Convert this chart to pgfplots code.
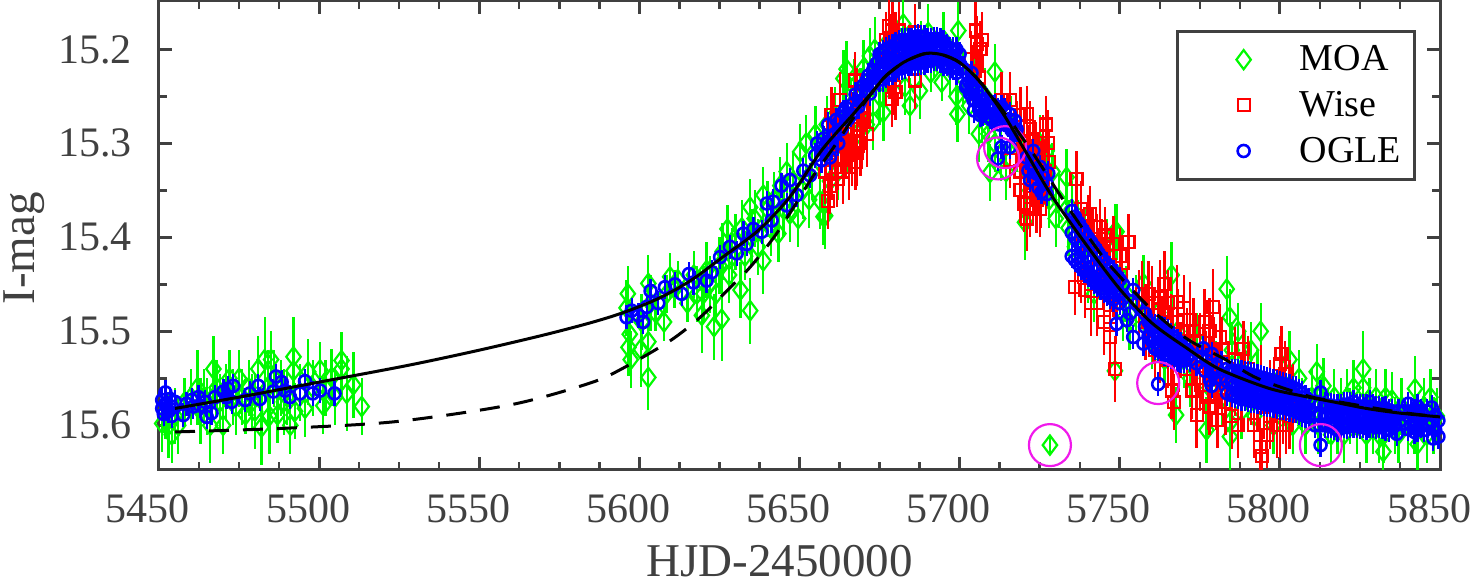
\documentclass[border=0pt]{standalone}
\usepackage{fontspec}
\setmainfont{Liberation Serif}
\usepackage{pgfplots}
\pgfplotsset{compat=1.18}
\definecolor{axgray}{HTML}{404040}
\definecolor{circ}{RGB}{240,25,235}
\definecolor{moa}{RGB}{0,250,0}
\begin{document}
\begin{tikzpicture}
\useasboundingbox (-79.5pt,-55.5pt) rectangle (656.5pt,235pt);
\begin{axis}[
    scale only axis, width=640.5pt, height=234.5pt,
    clip mode=individual,
    xmin=5450, xmax=5850, ymin=15.1485, ymax=15.6475, y dir=reverse,
    xtick={5450,5500,...,5850}, ytick={15.2,15.3,15.4,15.5,15.6},
    minor x tick num=3, minor y tick num=1,
    tick align=inside, major tick length=6.5pt, minor tick length=4pt,
    axis line style={axgray,line width=1.5pt},
    every tick/.style={axgray,line width=1.5pt},
    every minor tick/.style={axgray,line width=1.2pt},
    /pgf/number format/assume math mode=true,
    xticklabel style={/pgf/number format/fixed,/pgf/number format/1000 sep={},yshift=-9pt,xshift=-5.5pt},
    yticklabel style={/pgf/number format/fixed,/pgf/number format/fixed zerofill,/pgf/number format/precision=1,xshift=-10pt},
    tick label style={font=\fontsize{21}{21}\selectfont,text=axgray},
    label style={font=\fontsize{23.5}{23.5}\selectfont,text=axgray},
    xlabel={HJD-2450000}, ylabel={I-mag},
    xlabel style={yshift=-4pt,xshift=-10pt}, ylabel style={yshift=0pt,xshift=-6.5pt},
    legend style={at={(0.981,0.938)},anchor=north east,draw=axgray,line width=1.5pt,
      font=\fontsize{19}{19}\selectfont,text=black,inner xsep=4.5pt,inner ysep=5pt,
      row sep=4.75pt,/tikz/every odd column/.append style={column sep=22.5pt}},
    legend cell align=left,
    legend image code/.code={\path[draw=none] (-20.1pt,0pt) -- (8.5pt,0pt);
      \draw[#1,only marks] plot coordinates {(0.3cm,0cm)};},
]
\addplot[only marks,mark=diamond,mark size=4.8pt,color=moa,line width=1.1pt,
  error bars/.cd,y dir=both,y explicit,error mark=none,error bar style={line width=1.15pt,color=moa}]
  table[x index=0,y index=1,y error index=2,row sep=\\] {
5451 15.598 .03\\ 5452 15.585 .03\\ 5453 15.6 .035\\ 5454 15.61 .03\\ 5455 15.59 .03\\ 5456 15.6 .03\\ 5458 15.575 .025\\ 5460 15.57 .03\\
5462 15.56 .04\\ 5463 15.585 .035\\ 5464 15.57 .03\\ 5465 15.58 .03\\ 5466 15.6 .04\\ 5467 15.54 .035\\ 5468 15.56 .03\\ 5469 15.575 .03\\
5470 15.6 .03\\ 5471 15.565 .03\\ 5472 15.55 .03\\ 5473 15.57 .03\\ 5474 15.58 .03\\ 5475 15.55 .03\\ 5476 15.57 .03\\ 5477 15.589 .02\\
5478 15.56 .03\\ 5479 15.575 .03\\ 5480 15.585 .04\\ 5481 15.54 .035\\ 5482 15.602 .04\\ 5483 15.53 .045\\ 5484 15.56 .04\\ 5484.5 15.59 .04\\
5485 15.53 .03\\ 5486 15.55 .03\\ 5487 15.589 .03\\ 5488 15.56 .03\\ 5489 15.575 .035\\ 5490 15.57 .03\\ 5491 15.6 .03\\ 5492 15.527 .042\\
5492 15.542 .03\\ 5492.5 15.585 .03\\ 5494 15.565 .03\\ 5495.6 15.582 .03\\ 5496.6 15.543 .035\\ 5498 15.56 .03\\ 5500.3 15.541 .03\\ 5501.3 15.579 .03\\
5502 15.56 .03\\ 5503.9 15.549 .03\\ 5505 15.57 .03\\ 5507 15.531 .03\\ 5507 15.54 .03\\ 5508.6 15.566 .04\\ 5510.7 15.557 .035\\ 5513.3 15.58 .03\\
5596.4 15.46 .03\\ 5596 15.475 .03\\ 5597 15.503 .03\\ 5596.6 15.517 .03\\ 5597.3 15.53 .03\\ 5600.4 15.519 .04\\ 5600.7 15.49 .03\\ 5602.8 15.449 .03\\
5602.8 15.511 .04\\ 5602.8 15.549 .035\\ 5603.5 15.47 .03\\ 5605 15.48 .02\\ 5607.7 15.49 .02\\ 5609.6 15.442 .025\\ 5608.5 15.46 .02\\ 5611 15.455 .02\\
5612 15.445 .02\\ 5615 15.47 .02\\ 5617 15.44 .025\\ 5618 15.46 .03\\ 5619.5 15.483 .04\\ 5620 15.46 .03\\ 5621 15.435 .03\\ 5622 15.45 .03\\
5623.3 15.495 .035\\ 5624 15.46 .03\\ 5625.7 15.487 .045\\ 5625 15.43 .03\\ 5626 15.415 .03\\ 5627.5 15.391 .025\\ 5628 15.44 .03\\ 5629 15.42 .03\\
5630 15.405 .03\\ 5631.6 15.456 .03\\ 5632 15.39 .03\\ 5633 15.42 .025\\ 5634.6 15.478 .035\\ 5634.6 15.368 .03\\ 5635 15.4 .03\\ 5636 15.38 .03\\
5637 15.41 .03\\ 5638.7 15.425 .035\\ 5638.7 15.355 .03\\ 5640 15.37 .03\\ 5641 15.39 .03\\ 5642 15.36 .03\\ 5643.4 15.396 .03\\ 5644 15.345 .03\\
5645 15.37 .03\\ 5646 15.33 .03\\ 5647 15.375 .03\\ 5648 15.34 .03\\ 5649.6 15.38 .03\\ 5650.2 15.309 .03\\ 5651 15.35 .03\\ 5652 15.3 .03\\
5653 15.36 .03\\ 5654 15.33 .03\\ 5655 15.29 .03\\ 5656.4 15.361 .03\\ 5657.5 15.378 .03\\ 5658 15.377 .035\\ 5658.5 15.28 .03\\ 5659.5 15.34 .03\\
5660 15.31 .03\\ 5661 15.27 .03\\ 5662 15.33 .03\\ 5663.7 15.231 .03\\ 5664.7 15.221 .03\\ 5665 15.3 .03\\ 5666 15.26 .03\\ 5667 15.24 .03\\
5668 15.29 .03\\ 5669 15.25 .03\\ 5670 15.22 .03\\ 5671 15.28 .035\\ 5672 15.207 .03\\ 5673 15.277 .03\\ 5673.5 15.2 .035\\ 5675 15.25 .03\\
5676.2 15.267 .03\\ 5677 15.22 .03\\ 5678 15.19 .03\\ 5680 15.21 .03\\ 5682.4 15.173 .03\\ 5683 15.24 .03\\ 5684.5 15.26 .03\\ 5686 15.21 .03\\
5687.6 15.244 .03\\ 5688 15.2 .03\\ 5690.2 15.182 .03\\ 5691 15.225 .02\\ 5692 15.21 .02\\ 5694.4 15.235 .02\\ 5695 15.19 .03\\ 5697 15.22 .03\\
5699.3 15.269 .03\\ 5699 15.25 .03\\ 5699.6 15.18 .03\\ 5701 15.23 .03\\ 5703 15.26 .03\\ 5705 15.24 .03\\ 5706 15.29 .03\\ 5707 15.27 .03\\
5708 15.25 .03\\ 5709.5 15.331 .03\\ 5709 15.29 .03\\ 5711 15.224 .03\\ 5711 15.3 .03\\ 5713 15.31 .03\\ 5714.5 15.33 .03\\ 5716 15.28 .03\\
5718 15.3 .03\\ 5720.4 15.384 .04\\ 5721 15.33 .03\\ 5722 15.35 .03\\ 5724 15.32 .03\\ 5725 15.3 .03\\ 5727.2 15.308 .03\\ 5728 15.36 .03\\
5729 15.33 .03\\ 5728.2 15.621 .01\\ 5730 15.38 .03\\ 5731 15.36 .03\\ 5733.4 15.336 .03\\ 5734 15.39 .03\\ 5735 15.37 .03\\ 5736 15.41 .03\\
5737 15.39 .03\\ 5738 15.42 .03\\ 5739 15.4 .03\\ 5740 15.44 .03\\ 5741 15.41 .03\\ 5742 15.46 .03\\ 5743 15.43 .03\\ 5745 15.45 .03\\
5746 15.41 .03\\ 5748.5 15.394 .03\\ 5749 15.394 .03\\ 5748.5 15.542 .03\\ 5750 15.44 .03\\ 5751 15.48 .03\\ 5752 15.46 .03\\ 5753 15.49 .03\\
5755 15.47 .03\\ 5757.4 15.449 .03\\ 5758 15.49 .03\\ 5760 15.51 .03\\ 5762 15.48 .03\\ 5764 15.53 .03\\ 5766.2 15.44 .035\\ 5767.6 15.589 .03\\
5768 15.5 .03\\ 5770 15.53 .03\\ 5772 15.55 .03\\ 5774 15.51 .03\\ 5776 15.53 .03\\ 5777.1 15.605 .035\\ 5778 15.56 .03\\ 5780 15.54 .03\\
5782 15.57 .03\\ 5783.4 15.455 .035\\ 5784.4 15.485 .03\\ 5784.4 15.612 .04\\ 5784.4 15.597 .03\\ 5785 15.52 .03\\ 5786 15.56 .03\\ 5787 15.5 .03\\
5788 15.585 .03\\ 5789 15.53 .03\\ 5790 15.57 .03\\ 5791 15.52 .03\\ 5792 15.59 .03\\ 5793 15.55 .03\\ 5794 15.5 .03\\ 5796 15.57 .03\\
5798 15.6 .03\\ 5800 15.55 .03\\ 5802 15.59 .03\\ 5803 15.53 .03\\ 5804 15.6 .03\\ 5806 15.55 .03\\ 5807 15.58 .03\\ 5808 15.6 .03\\
5810 15.57 .03\\ 5811.5 15.543 .03\\ 5812 15.6 .03\\ 5813.6 15.558 .03\\ 5815 15.59 .03\\ 5816 15.61 .03\\ 5817 15.57 .03\\ 5818 15.6 .03\\
5819 15.58 .03\\ 5820 15.61 .03\\ 5821 15.57 .03\\ 5822 15.59 .03\\ 5823 15.56 .03\\ 5824 15.6 .03\\ 5826 15.54 .04\\ 5826 15.56 .03\\
5827 15.61 .03\\ 5828 15.58 .03\\ 5829 15.6 .03\\ 5830 15.57 .03\\ 5831 15.61 .03\\ 5832.3 15.628 .03\\ 5832.5 15.61 .03\\ 5833 15.57 .03\\
5835 15.573 .03\\ 5836 15.6 .03\\ 5837 15.61 .03\\ 5838 15.58 .03\\ 5840 15.6 .03\\ 5842.2 15.561 .035\\ 5842 15.6 .03\\ 5843 15.62 .03\\
5845 15.58 .03\\ 5846 15.61 .03\\ 5847 15.57 .03\\ 5848 15.6 .03\\ 5849 15.59 .03\\
};
\addlegendentry{MOA}
\addplot[only marks,mark=square,mark size=3pt,color=red,line width=1.1pt,
  error bars/.cd,y dir=both,y explicit,error mark=none,error bar style={line width=1.15pt,color=red}]
  table[x index=0,y index=1,y error index=2,row sep=\\] {
5659 15.361 .03\\ 5659.5 15.345 .03\\ 5660 15.33 .03\\ 5661.6 15.338 .03\\ 5662.6 15.254 .03\\ 5660 15.27 .03\\ 5660.5 15.285 .03\\ 5663 15.3 .03\\
5664 15.315 .03\\ 5665 15.29 .03\\ 5666 15.3 .03\\ 5667.3 15.233 .03\\ 5667.5 15.32 .03\\ 5668 15.25 .03\\ 5669 15.28 .03\\ 5670 15.26 .03\\
5661 15.3 .035\\ 5662 15.315 .035\\ 5663.5 15.33 .035\\ 5664.5 15.3 .035\\ 5665.5 15.325 .035\\ 5666.5 15.31 .035\\ 5667 15.285 .035\\ 5668 15.31 .035\\
5669 15.3 .035\\ 5670 15.275 .035\\ 5671 15.29 .035\\ 5659.5 15.31 .035\\ 5658 15.33 .035\\ 5678 15.175 .03\\ 5680.5 15.205 .03\\ 5681 15.18 .03\\ 5679.5 15.24 .03\\ 5677.5 15.21 .03\\
5677 15.19 .03\\ 5678.3 15.192 .03\\ 5679 15.18 .03\\ 5680 15.19 .03\\ 5678.8 15.253 .03\\ 5680 15.245 .03\\ 5686 15.233 .03\\ 5686 15.182 .03\\
5703.5 15.21 .03\\ 5705.3 15.194 .03\\ 5705.5 15.215 .03\\ 5706.5 15.2 .03\\ 5704 15.225 .03\\ 5705 15.18 .03\\ 5706 15.23 .03\\ 5707 15.19 .03\\
5713.1 15.254 .03\\ 5715.7 15.254 .03\\ 5719 15.27 .03\\ 5721 15.269 .03\\
5722 15.285 .03\\ 5723 15.295 .03\\ 5723.5 15.305 .03\\ 5724 15.32 .03\\ 5715.7 15.318 .03\\ 5719 15.33 .03\\ 5720 15.364 .03\\ 5725.1 15.37 .03\\
5718 15.29 .035\\ 5720 15.3 .035\\ 5721.5 15.315 .035\\ 5722.5 15.33 .035\\ 5724.5 15.34 .035\\ 5725.5 15.355 .035\\ 5726.5 15.33 .035\\ 5727.5 15.3 .035\\ 5728 15.32 .035\\ 5719 15.35 .035\\ 5721 15.38 .035\\ 5724 15.36 .035\\
5722 15.37 .03\\ 5723 15.345 .03\\ 5726 15.3 .03\\ 5727 15.28 .03\\ 5736.5 15.338 .03\\ 5738 15.37 .03\\ 5740.7 15.375 .03\\ 5743.8 15.389 .03\\
5738.5 15.405 .035\\ 5740 15.39 .035\\ 5741.5 15.405 .035\\ 5743 15.41 .035\\ 5744.5 15.415 .035\\ 5746 15.42 .035\\ 5747 15.43 .035\\ 5748 15.45 .035\\ 5749 15.47 .035\\ 5750.5 15.44 .035\\ 5741 15.47 .035\\ 5743 15.47 .035\\ 5745 15.49 .035\\ 5747 15.485 .035\\
5748 15.407 .03\\ 5736 15.453 .03\\ 5739.1 15.456 .03\\ 5737 15.42 .03\\ 5738 15.44 .03\\ 5741 15.45 .03\\ 5742 15.42 .03\\ 5745.4 15.398 .03\\
5745 15.43 .03\\ 5747 15.506 .04\\ 5748.5 15.54 .035\\ 5750 15.42 .03\\ 5752.7 15.405 .03\\ 5758 15.49 .04\\ 5760 15.47 .04\\ 5761 15.52 .03\\
5756 15.47 .035\\ 5757 15.46 .035\\ 5759 15.46 .035\\ 5760.5 15.5 .035\\ 5762 15.49 .035\\ 5762.5 15.52 .035\\ 5764 15.45 .035\\ 5765 15.47 .035\\ 5766.5 15.51 .035\\ 5768 15.49 .035\\ 5768.5 15.53 .035\\ 5770 15.475 .035\\
5771 15.51 .035\\ 5773 15.5 .035\\ 5773.5 15.53 .035\\ 5775 15.55 .035\\ 5776.5 15.49 .035\\ 5777.5 15.57 .035\\ 5778.5 15.54 .035\\ 5779.5 15.52 .035\\ 5780.5 15.55 .035\\ 5782 15.52 .035\\ 5783 15.575 .035\\ 5785 15.59 .035\\
5786 15.53 .035\\ 5787 15.6 .035\\ 5788 15.57 .035\\ 5790 15.54 .035\\ 5792 15.6 .035\\ 5793 15.57 .035\\ 5794 15.55 .035\\ 5796 15.61 .035\\ 5797 15.59 .035\\ 5798 15.575 .035\\ 5800 15.6 .035\\ 5801.5 15.545 .035\\ 5803 15.59 .035\\ 5804 15.57 .035\\
5762.6 15.464 .04\\ 5763 15.5 .03\\ 5764 15.48 .035\\ 5765 15.53 .03\\ 5766 15.49 .03\\ 5766.2 15.563 .03\\ 5767 15.575 .03\\ 5767.8 15.469 .04\\
5769 15.52 .03\\ 5770 15.5 .03\\ 5771 15.54 .03\\ 5772 15.488 .04\\ 5772.5 15.563 .03\\ 5774 15.589 .035\\ 5775 15.51 .03\\ 5776 15.55 .03\\
5777 15.53 .03\\ 5778 15.5 .035\\ 5779.2 15.474 .04\\ 5780 15.57 .035\\ 5780.5 15.594 .03\\ 5781.3 15.506 .035\\ 5782 15.56 .03\\ 5778 15.58 .03\\
5784 15.54 .03\\ 5786 15.56 .03\\ 5788.6 15.519 .03\\ 5789 15.55 .03\\ 5791 15.57 .03\\ 5793.8 15.623 .03\\ 5794.5 15.633 .03\\ 5795 15.58 .035\\
5797 15.56 .03\\ 5799 15.6 .035\\ 5800.5 15.524 .03\\ 5800 15.535 .03\\ 5801 15.58 .04\\ 5802 15.6 .03\\ 5803 15.56 .03\\
};
\addlegendentry{Wise}
\addplot[only marks,mark=o,mark size=3pt,color=blue,line width=1.3pt,
  error bars/.cd,y dir=both,y fixed=0.013,error mark=none,error bar style={line width=1.15pt,color=blue}]
  table[x index=0,y index=1,row sep=\\] {
5451 15.573\\ 5451 15.582\\ 5451.5 15.588\\ 5452 15.565\\ 5452 15.577\\ 5453 15.585\\ 5453.5 15.572\\ 5454 15.59\\ 5455 15.575\\ 5454 15.58\\
5457.6 15.589\\ 5458.6 15.577\\ 5460.2 15.573\\ 5460.7 15.58\\ 5462.3 15.57\\ 5462.8 15.579\\ 5464.4 15.575\\ 5464.9 15.591\\ 5466.4 15.587\\ 5467.5 15.57\\
5470.1 15.564\\ 5471.6 15.561\\ 5473.2 15.558\\ 5471.1 15.57\\ 5472.7 15.575\\ 5476.9 15.573\\ 5478.4 15.566\\ 5481 15.558\\ 5481.5 15.572\\ 5485.7 15.564\\
5486.5 15.548\\ 5488.3 15.554\\ 5489.3 15.563\\ 5490.9 15.57\\ 5494 15.566\\ 5495.6 15.553\\ 5498 15.566\\ 5500.3 15.563\\ 5504.8 15.566\\
5596 15.485\\ 5597.6 15.478\\ 5599.7 15.483\\ 5601.2 15.49\\ 5602.3 15.474\\ 5603.5 15.457\\ 5605.9 15.47\\ 5608 15.453\\ 5611.1 15.45\\ 5613.2 15.46\\
5615.5 15.439\\ 5616.9 15.448\\ 5621 15.446\\ 5622.6 15.437\\ 5625.2 15.421\\ 5628.3 15.41\\ 5630.4 15.417\\ 5632.5 15.396\\ 5633.5 15.407\\ 5635.6 15.391\\
5638.2 15.394\\ 5639.8 15.364\\ 5641.3 15.382\\ 5641.8 15.362\\ 5644.4 15.345\\ 5646 15.366\\ 5647 15.339\\ 5649.1 15.355\\ 5651.2 15.329\\ 5653.3 15.334\\
5654.9 15.313\\ 5656.9 15.318\\ 5658.5 15.299\\ 5660.6 15.293\\ 5662.1 15.3\\ 5658 15.304\\ 5659.5 15.315\\ 5661.1 15.29\\ 5662.6 15.276\\ 5663.7 15.267\\
5665.2 15.274\\ 5666.8 15.258\\ 5668.4 15.261\\ 5669.4 15.244\\ 5671 15.233\\ 5672 15.247\\
5655.5 15.3\\ 5657.5 15.295\\ 5659 15.28\\ 5660 15.305\\ 5661.5 15.275\\ 5663 15.285\\ 5664.5 15.262\\ 5666 15.27\\ 5667.5 15.248\\ 5669 15.255\\ 5670 15.238\\ 5671.5 15.228\\ 5673 15.222\\ 5672.5 15.236\\ 5673 15.235\\
5674 15.215\\ 5674 15.23\\ 5675 15.205\\ 5675 15.222\\ 5675 15.232\\ 5676 15.203\\ 5676 15.218\\ 5676 15.232\\ 5677 15.2\\ 5677 15.215\\ 5677 15.228\\
5678 15.198\\ 5678 15.212\\ 5678 15.226\\ 5679 15.197\\ 5679 15.21\\ 5679 15.225\\ 5680 15.195\\ 5680 15.208\\ 5680 15.222\\ 5681 15.192\\ 5681 15.205\\ 5681 15.22\\
5682 15.19\\ 5682 15.205\\ 5682 15.22\\ 5683 15.19\\ 5683 15.203\\ 5683 15.218\\ 5684 15.19\\ 5684 15.2\\ 5684 15.215\\ 5685 15.19\\ 5685 15.2\\ 5685 15.215\\
5686 15.187\\ 5686 15.2\\ 5686 15.215\\ 5687 15.186\\ 5687 15.2\\ 5687 15.215\\ 5688 15.187\\ 5688 15.2\\ 5688 15.214\\ 5689 15.187\\ 5689 15.2\\ 5689 15.214\\
5690 15.19\\ 5690 15.2\\ 5690 15.212\\ 5691 15.19\\ 5691 15.2\\ 5691 15.212\\ 5692 15.189\\ 5692 15.2\\ 5692 15.21\\ 5693 15.189\\ 5693 15.2\\ 5693 15.21\\
5694 15.19\\ 5694 15.203\\ 5694 15.212\\ 5695 15.192\\ 5695 15.205\\ 5695 15.215\\ 5696 15.197\\ 5696 15.207\\ 5696 15.215\\ 5697 15.2\\ 5697 15.21\\ 5697 15.22\\
5698 15.2\\ 5698 15.21\\ 5698 15.22\\ 5699 15.2\\ 5699 15.212\\ 5699 15.225\\ 5700 15.205\\ 5700 15.215\\
5701 15.22\\ 5702 15.225\\ 5702 15.24\\ 5703 15.235\\ 5703.7 15.225\\ 5704 15.24\\ 5704.5 15.265\\ 5705 15.255\\ 5706 15.25\\ 5706.5 15.27\\ 5707 15.255\\ 5708 15.265\\ 5709 15.26\\ 5710 15.275\\ 5711 15.26\\ 5712 15.265\\ 5713 15.275\\ 5714 15.265\\ 5715 15.28\\ 5716 15.275\\ 5717 15.285\\
5702.2 15.237\\ 5703.2 15.247\\ 5705.3 15.244\\ 5706.4 15.261\\ 5708.4 15.254\\ 5709.5 15.272\\ 5710.5 15.261\\ 5713.1 15.261\\ 5715.7 15.269\\ 5717.3 15.276\\
5717.8 15.285\\ 5716.2 15.286\\ 5707.4 15.269\\ 5704.3 15.254\\ 5713.1 15.304\\ 5711.9 15.316\\ 5715.7 15.304\\ 5711.5 15.27\\ 5712.5 15.28\\ 5714 15.275\\
5720.9 15.315\\ 5723 15.308\\ 5721.5 15.329\\ 5723 15.322\\ 5722 15.339\\ 5724 15.332\\ 5725.1 15.325\\ 5726.1 15.336\\ 5724.6 15.347\\ 5727.2 15.343\\
5727.2 15.354\\ 5725.6 15.352\\ 5727.7 15.332\\
5735 15.372\\ 5735 15.395\\ 5735 15.42\\ 5736 15.378\\ 5736 15.4\\ 5736 15.424\\ 5737 15.384\\ 5737 15.405\\ 5737 15.428\\ 5738 15.39\\ 5738 15.41\\ 5738 15.432\\
5739 15.395\\ 5739 15.415\\ 5739 15.436\\ 5740 15.4\\ 5740 15.42\\ 5740 15.44\\ 5741 15.405\\ 5741 15.425\\ 5741 15.443\\ 5742 15.41\\ 5742 15.43\\ 5742 15.447\\
5743 15.415\\ 5743 15.435\\ 5743 15.45\\ 5744 15.42\\ 5744 15.44\\ 5744 15.454\\ 5745 15.425\\ 5745 15.442\\ 5745 15.457\\ 5746 15.429\\ 5746 15.445\\ 5746 15.46\\
5747 15.433\\ 5747 15.45\\ 5747 15.463\\ 5748 15.437\\ 5748 15.453\\ 5748 15.466\\ 5749 15.441\\ 5749 15.456\\ 5749 15.492\\ 5750 15.445\\ 5750 15.46\\ 5750 15.47\\
5751 15.45\\ 5751 15.465\\ 5752.2 15.488\\ 5753.2 15.481\\ 5754.2 15.456\\ 5754.2 15.506\\ 5755.3 15.471\\ 5757.4 15.513\\ 5757.9 15.481\\ 5757.9 15.495\\
5759 15.49\\ 5759 15.505\\ 5760 15.495\\ 5760 15.51\\ 5761 15.495\\ 5761 15.507\\ 5761 15.518\\ 5762 15.495\\ 5762 15.508\\ 5762 15.52\\ 5763 15.497\\ 5763 15.51\\ 5763 15.522\\
5764 15.498\\ 5764 15.511\\ 5764 15.524\\ 5765 15.5\\ 5765 15.512\\ 5765 15.525\\ 5766 15.504\\ 5766 15.516\\ 5766 15.527\\ 5767 15.507\\ 5767 15.518\\ 5767 15.528\\
5768 15.51\\ 5768 15.52\\ 5768 15.53\\ 5769 15.514\\ 5769 15.523\\ 5769 15.531\\ 5770 15.518\\ 5770 15.525\\ 5770 15.531\\ 5771 15.52\\ 5771 15.528\\ 5772 15.524\\ 5772 15.53\\
5762 15.556\\ 5776.1 15.518\\ 5774 15.534\\ 5777.1 15.531\\ 5778.2 15.552\\ 5780.3 15.538\\ 5779.2 15.545\\ 5781.3 15.549\\ 5775.6 15.527\\ 5778.7 15.524\\ 5781.8 15.534\\ 5776.6 15.542\\ 5778.7 15.558\\
5783.5 15.54\\ 5783.5 15.553\\ 5783.5 15.566\\ 5785 15.542\\ 5785 15.555\\ 5785 15.568\\ 5786 15.542\\ 5786 15.556\\ 5786 15.569\\ 5787 15.542\\ 5787 15.557\\ 5787 15.57\\
5788 15.543\\ 5788 15.558\\ 5788 15.572\\ 5789 15.544\\ 5789 15.558\\ 5789 15.572\\ 5790 15.545\\ 5790 15.559\\ 5790 15.573\\ 5791 15.546\\ 5791 15.56\\ 5791 15.574\\
5792 15.547\\ 5792 15.56\\ 5792 15.574\\ 5793 15.548\\ 5793 15.561\\ 5793 15.575\\ 5794 15.549\\ 5794 15.562\\ 5794 15.576\\ 5795 15.55\\ 5795 15.563\\ 5795 15.577\\
5796 15.551\\ 5796 15.564\\ 5796 15.578\\ 5797 15.552\\ 5797 15.565\\ 5797 15.578\\ 5798 15.553\\ 5798 15.566\\ 5798 15.579\\ 5799 15.554\\ 5799 15.567\\ 5799 15.58\\
5800 15.555\\ 5800 15.568\\ 5800 15.581\\ 5801 15.556\\ 5801 15.569\\ 5801 15.581\\ 5802 15.557\\ 5802 15.57\\ 5802 15.582\\ 5803 15.558\\ 5803 15.57\\ 5803 15.583\\
5804 15.56\\ 5804 15.572\\ 5804 15.584\\ 5805 15.561\\ 5805 15.573\\ 5805 15.585\\ 5806 15.564\\ 5806 15.576\\ 5806 15.587\\ 5807 15.566\\ 5807 15.578\\ 5807 15.589\\
5808 15.57\\ 5808 15.581\\ 5808 15.59\\ 5809 15.573\\ 5809 15.583\\ 5809 15.591\\
5811 15.575\\ 5811 15.588\\ 5811 15.6\\ 5812.7 15.565\\ 5812.7 15.621\\ 5812.5 15.578\\ 5812.5 15.59\\ 5812.5 15.6\\ 5814 15.578\\ 5814 15.59\\ 5814 15.6\\ 5815 15.579\\ 5815 15.59\\ 5815 15.6\\
5816 15.579\\ 5816 15.59\\ 5816 15.6\\ 5817 15.58\\ 5817 15.59\\ 5817 15.603\\ 5818 15.58\\ 5818 15.59\\ 5818 15.605\\ 5819 15.58\\ 5819 15.59\\ 5819 15.6\\ 5820 15.578\\ 5820 15.59\\ 5820 15.6\\
5821 15.578\\ 5821 15.59\\ 5821 15.602\\ 5822 15.578\\ 5822 15.59\\ 5822 15.6\\ 5823 15.575\\ 5823 15.588\\ 5823 15.6\\ 5824 15.58\\ 5824 15.59\\ 5824 15.6\\ 5825 15.58\\ 5825 15.59\\ 5825 15.602\\
5826 15.58\\ 5826 15.59\\ 5826 15.6\\ 5827 15.58\\ 5827 15.59\\ 5827 15.603\\ 5828.1 15.575\\ 5828 15.588\\ 5828 15.6\\ 5829 15.58\\ 5829 15.59\\ 5829 15.6\\ 5830 15.582\\ 5830 15.592\\ 5830 15.602\\
5831 15.582\\ 5831 15.592\\ 5831 15.6\\ 5832 15.583\\ 5832 15.592\\ 5832 15.602\\ 5833 15.582\\ 5833 15.592\\ 5833 15.604\\ 5834 15.585\\ 5834 15.595\\ 5834 15.605\\ 5835 15.585\\ 5835 15.597\\
5836.5 15.609\\ 5836.5 15.59\\ 5836 15.6\\ 5837 15.585\\
5839 15.585\\ 5839 15.598\\ 5840.1 15.577\\ 5840 15.59\\ 5840 15.604\\ 5841 15.585\\ 5841 15.6\\ 5842 15.585\\ 5842 15.598\\ 5842 15.607\\ 5843 15.58\\ 5843 15.592\\ 5843 15.605\\
5844 15.585\\ 5844 15.6\\ 5845 15.59\\ 5845 15.605\\ 5846 15.585\\ 5846 15.6\\ 5847.4 15.581\\ 5847.4 15.595\\ 5847.9 15.614\\ 5848.5 15.59\\ 5848.5 15.605\\ 5849.5 15.595\\ 5849.5 15.612\\
};
\addlegendentry{OGLE}
\addplot[forget plot,only marks,mark=o,mark size=10.5pt,color=circ,line width=1.1pt] coordinates {
(5728.2,15.621) (5714.2,15.304) (5712,15.316) (5762,15.555) (5812.8,15.621)};
\addplot[forget plot,smooth,black,line width=1.5pt,no marks] coordinates {
(5455,15.582) (5475,15.57) (5500,15.554) (5528,15.536) (5550,15.52) (5570,15.504) (5584.6,15.491) (5595,15.48)
(5606,15.465) (5616,15.446) (5626,15.421) (5637,15.393) (5647,15.357) (5657,15.307) (5667,15.268)
(5674,15.24) (5677,15.228) (5682.4,15.214) (5687.6,15.206) (5690.7,15.204) (5694.9,15.206) (5700,15.214) (5706,15.233) (5713.5,15.268) (5721,15.311) (5729,15.357)
(5740,15.41) (5750,15.455) (5760,15.491) (5771,15.518) (5781,15.54) (5796,15.56) (5806,15.568)
(5816.6,15.575) (5827,15.582) (5837.5,15.587) (5850,15.591)};
\addplot[forget plot,smooth,black,line width=1.5pt,no marks,dash pattern=on 10pt off 7pt] coordinates {
(5455,15.607) (5490,15.603) (5524,15.596) (5560,15.578) (5584.6,15.555) (5595,15.539) (5609.6,15.51) (5619,15.485)
(5627,15.458) (5634.5,15.432) (5642,15.4) (5648,15.369) (5654,15.336) (5660.5,15.305) (5667,15.272) (5674,15.24)
(5677,15.228) (5682.4,15.214) (5687.6,15.206) (5690.7,15.204) (5694.9,15.206) (5700,15.214) (5706,15.233) (5713.5,15.265) (5723,15.311) (5732.5,15.361) (5742,15.408)
(5748,15.434) (5760,15.477) (5771,15.508) (5783,15.53) (5793,15.55) (5809,15.569) (5820,15.576) (5837.5,15.586) (5850,15.591)};
\end{axis}
\end{tikzpicture}
\end{document}
